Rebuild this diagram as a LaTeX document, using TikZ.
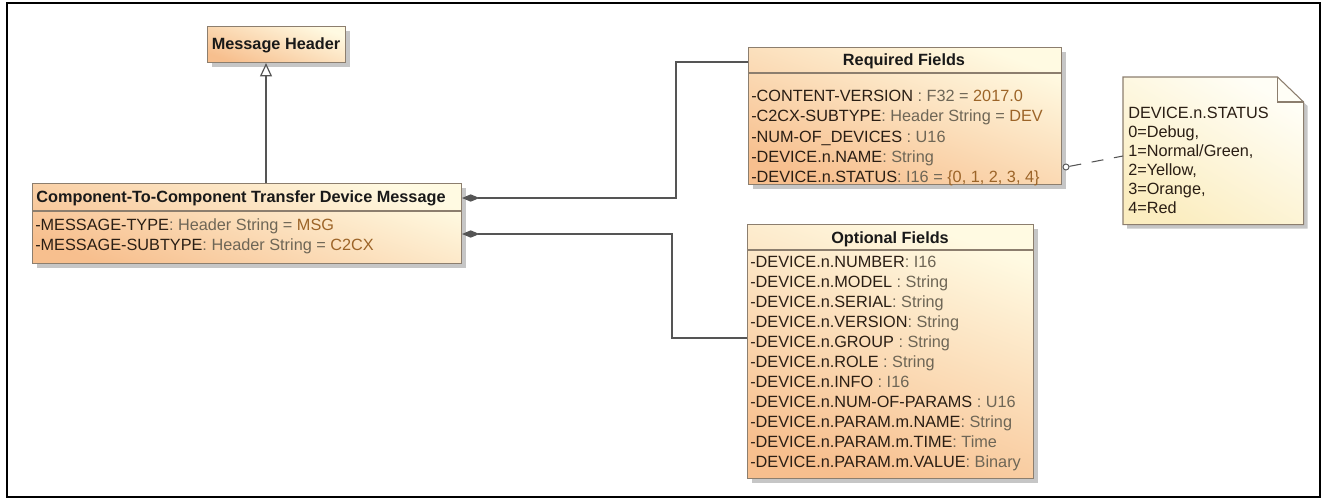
\documentclass[tikz,border=0pt]{standalone}
\usepackage{fontspec}
\setmainfont{Liberation Sans}
\usetikzlibrary{arrows.meta,shadows,calc}
\definecolor{boxline}{HTML}{8C7E6E}
\definecolor{boxlight}{HTML}{FFFAE2}
\definecolor{boxdark}{HTML}{F7BF8E}
\definecolor{notelight}{HTML}{FFFEF6}
\definecolor{notedark}{HTML}{FBEDC0}
\definecolor{nametxt}{HTML}{2A1E14}
\definecolor{typetxt}{HTML}{6E6656}
\definecolor{valtxt}{HTML}{9C6428}
\definecolor{wire}{HTML}{555555}
\newcommand{\att}[3]{{\color{nametxt}#1}{\color{typetxt}\relax#2}{\color{valtxt}\relax#3}}
\begin{document}
\begin{tikzpicture}[x=0.75pt,y=-0.75pt,
  font=\fontsize{12.2}{14}\selectfont,
  cls/.style={rectangle, draw=boxline, line width=0.8pt, inner sep=0pt, anchor=north west,
    top color=boxlight, bottom color=boxdark, shading angle=-20,
    drop shadow={shadow xshift=3pt, shadow yshift=-3pt, fill=black!50, opacity=0.45}},
  notefill/.style={draw=boxline, line width=0.8pt, top color=notelight, bottom color=notedark, shading angle=-30,
    drop shadow={shadow xshift=3pt, shadow yshift=-3pt, fill=black!50, opacity=0.45}},
  ttl/.style={anchor=base, inner sep=0pt, font=\fontsize{12.2}{14}\selectfont\bfseries, text=black!90},
  lbl/.style={anchor=base west, inner sep=0pt, text=nametxt},
  divider/.style={draw=boxline, line width=0.8pt},
  gen/.style={draw=wire, line width=0.9pt, -{Triangle[open, length=10pt, width=9pt, fill=white]}},
  comp/.style={draw=wire, line width=0.9pt, {Diamond[length=13pt, width=5.5pt]}-},
  notelink/.style={draw=wire, line width=0.8pt, dash pattern=on 9pt off 8pt}
]
\useasboundingbox (0,0) rectangle (1328,500);
\draw[line width=1.5pt] (7,3) rectangle (1320,497);

% Message Header
\node[cls, minimum width=138*0.75pt, minimum height=36*0.75pt] (mh) at (207,26) {};
\node[ttl] (mhT) at (276,49.5) {Message Header};

% Main class
\node[cls, minimum width=429*0.75pt, minimum height=80*0.75pt] (main) at (32,183) {};
\draw[divider] (main.north west |- 0,211) -- (main.north east |- 0,211);
\node[ttl] (mainT) at (241,202.5) {Component-To-Component Transfer Device Message};
\node[lbl] (m1) at (35,230.5) {\att{-MESSAGE-TYPE}{: Header String = }{MSG}};
\node[lbl] (m2) at (35,250.5) {\att{-MESSAGE-SUBTYPE}{: Header String = }{C2CX}};

% Required Fields
\node[cls, minimum width=313*0.75pt, minimum height=137*0.75pt] (req) at (748,47) {};
\draw[divider] (req.north west |- 0,73) -- (req.north east |- 0,73);
\node[ttl] (reqT) at (904,65.5) {Required Fields};
\node[lbl] (r1) at (751,101.5) {\att{-CONTENT-VERSION}{ : F32 = }{2017.0}};
\node[lbl] (r2) at (751,121.75) {\att{-C2CX-SUBTYPE}{: Header String = }{DEV}};
\node[lbl] (r3) at (751,142) {\att{-NUM-OF\_DEVICES}{ : U16}{}};
\node[lbl] (r4) at (751,162.25) {\att{-DEVICE.n.NAME}{: String}{}};
\node[lbl] (r5) at (751,182.5) {\att{-DEVICE.n.STATUS}{: I16 = }{\{0, 1, 2, 3, 4\}}};

% Optional Fields
\node[cls, minimum width=286*0.75pt, minimum height=254*0.75pt] (opt) at (747,224) {};
\draw[divider] (opt.north west |- 0,250) -- (opt.north east |- 0,250);
\node[ttl] (optT) at (890,243.5) {Optional Fields};
\node[lbl] (o1) at (750,267.5) {\att{-DEVICE.n.NUMBER}{: I16}{}};
\node[lbl] (o2) at (750,287.5) {\att{-DEVICE.n.MODEL}{ : String}{}};
\node[lbl] (o3) at (750,307.5) {\att{-DEVICE.n.SERIAL}{: String}{}};
\node[lbl] (o4) at (750,327.5) {\att{-DEVICE.n.VERSION}{: String}{}};
\node[lbl] (o5) at (750,347.5) {\att{-DEVICE.n.GROUP}{ : String}{}};
\node[lbl] (o6) at (750,367.5) {\att{-DEVICE.n.ROLE}{ : String}{}};
\node[lbl] (o7) at (750,387.5) {\att{-DEVICE.n.INFO}{ : I16}{}};
\node[lbl] (o8) at (750,407.5) {\att{-DEVICE.n.NUM-OF-PARAMS}{ : U16}{}};
\node[lbl] (o9) at (750,427.5) {\att{-DEVICE.n.PARAM.m.NAME}{: String}{}};
\node[lbl] (o10) at (750,447.5) {\att{-DEVICE.n.PARAM.m.TIME}{: Time}{}};
\node[lbl] (o11) at (750,467.5) {\att{-DEVICE.n.PARAM.m.VALUE}{: Binary}{}};

% Note
\node[rectangle, inner sep=0pt, anchor=north west, minimum width=180*0.75pt, minimum height=147*0.75pt] (note) at (1123,77) {};
\path[notefill] (note.north west) -- ($(note.north east)+(-26,0)$) -- ($(note.north east)+(0,25)$)
  -- (note.south east) -- (note.south west) -- cycle;
\draw[boxline, line width=0.8pt] ($(note.north east)+(-26,0)$) -- ($(note.north east)+(-26,25)$) -- ($(note.north east)+(0,25)$);
\node[lbl] (n1) at (1128,118.5) {DEVICE.n.STATUS};
\node[lbl] (n2) at (1128,137.5) {0=Debug,};
\node[lbl] (n3) at (1128,156.5) {1=Normal/Green,};
\node[lbl] (n4) at (1128,175.5) {2=Yellow,};
\node[lbl] (n5) at (1128,194.5) {3=Orange,};
\node[lbl] (n6) at (1128,213.5) {4=Red};

% Connectors
\draw[gen] (266,0 |- main.north) -- (266,0 |- mh.south);
\draw[comp] (main.east |- 0,198) -- (676,198) |- (req.west |- 0,62);
\draw[comp] (main.east |- 0,234) -- (672,234) |- (opt.west |- 0,338);
\node[circle, draw=wire, line width=0.7pt, fill=white, inner sep=0pt, minimum size=4.5pt] (port) at (1066,167) {};
\draw[notelink] (port) -- (note.west |- 0,156);
\end{tikzpicture}
\end{document}
